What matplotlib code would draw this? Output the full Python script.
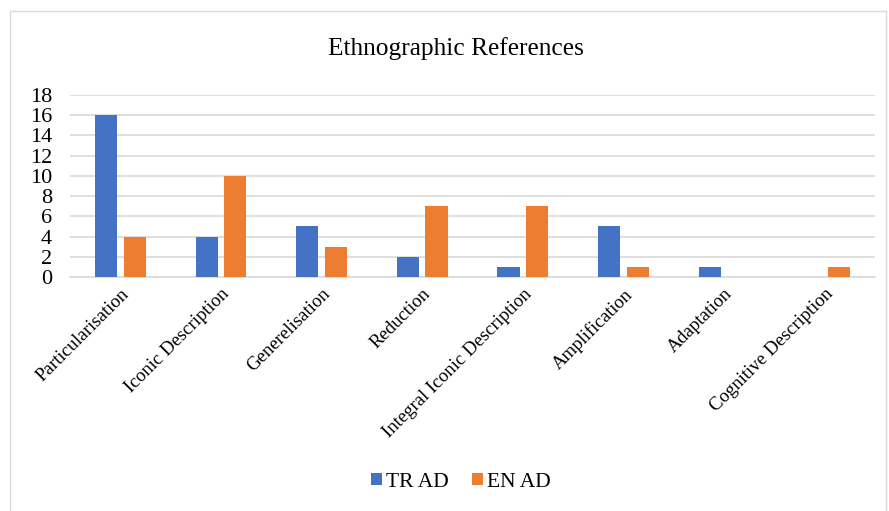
import numpy as np
import matplotlib.pyplot as plt
from matplotlib.patches import Rectangle

categories = ["Particularisation", "Iconic Description", "Generelisation", "Reduction",
              "Integral Iconic Description", "Amplification", "Adaptation",
              "Cognitive Description"]
tr_ad = [16, 4, 5, 2, 1, 5, 1, 0]
en_ad = [4, 10, 3, 7, 7, 1, 0, 1]

plt.rcParams['font.family'] = ['Liberation Serif', 'DejaVu Serif']

fig = plt.figure(figsize=(8.89, 5.11), dpi=100)
# light chart-area frame
fig.patches.append(Rectangle((10 / 889, -0.01), 876 / 889, 1 - 11 / 511 + 0.01,
                             transform=fig.transFigure, fill=False,
                             edgecolor='#d9d9d9', lw=1.0))

ax = fig.add_axes([70 / 889, 1 - 277 / 511, 805 / 889, 182 / 511])

x = np.arange(len(categories))
w = 0.22
ax.bar(x - 0.142, tr_ad, w, color='#4472C4', label='TR AD', zorder=3)
ax.bar(x + 0.142, en_ad, w, color='#ED7D31', label='EN AD', zorder=3)

ax.set_xlim(-0.5, len(categories) - 0.5)
ax.set_ylim(0, 18)
ax.set_yticks(range(0, 19, 2))
ax.yaxis.grid(True, color='#d9d9d9', lw=1.2, zorder=0)
ax.set_axisbelow(True)
for s in ['top', 'right', 'left']:
    ax.spines[s].set_visible(False)
ax.spines['bottom'].set_color('#d9d9d9')
ax.spines['bottom'].set_linewidth(1.2)
ax.tick_params(length=0)
ax.tick_params(axis='y', labelsize=16, pad=13)
ax.set_xticks(x)
ax.set_xticklabels(categories, rotation=45, ha='right', va='top',
                   rotation_mode='anchor', fontsize=13.5)
ax.tick_params(axis='x', pad=6)

fig.text(456 / 889, 1 - 49 / 511, "Ethnographic References", ha='center',
         va='center', fontsize=18.3)

fig.legend(loc='center', bbox_to_anchor=(461 / 889, 1 - 482 / 511), ncol=2,
           frameon=False, fontsize=15.5, handlelength=0.5, handleheight=0.5,
           handletextpad=0.2, columnspacing=1.1)

fig.savefig('out.png', dpi=100)
